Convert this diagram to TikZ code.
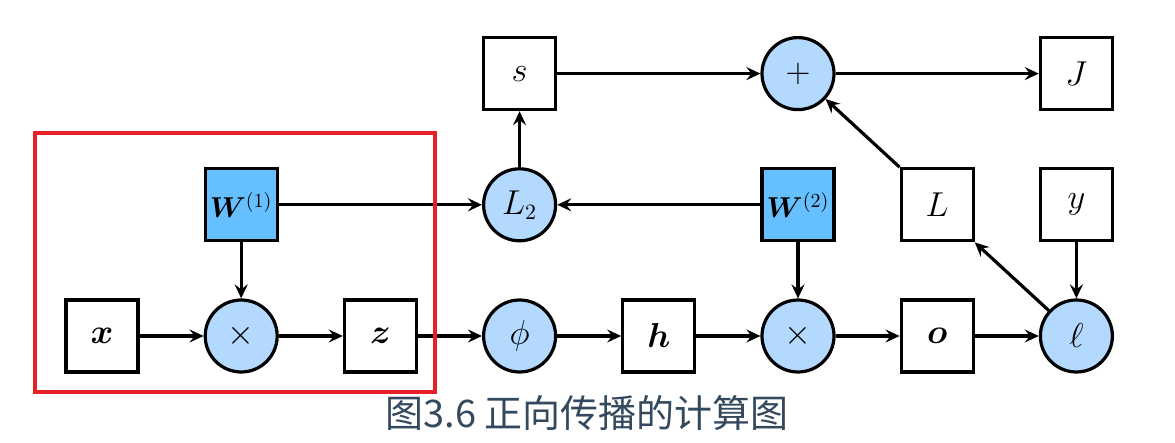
\documentclass[tikz,border=0pt]{standalone}
\usepackage{amsmath}
\usepackage{bm}
\usepackage{fontspec}
\usetikzlibrary{arrows.meta, positioning}
\newfontfamily\cjk{Noto Sans CJK SC}
\definecolor{opblue}{RGB}{179,217,255}
\definecolor{parblue}{RGB}{102,191,255}
\definecolor{framered}{RGB}{230,32,40}
\definecolor{capgray}{RGB}{52,73,94}

\begin{document}
\begin{tikzpicture}[>={Stealth[length=7pt,width=6.5pt,inset=2.5pt]},line width=1.6pt,x=0.5pt,y=-0.5pt,font=\fontsize{16}{19}\selectfont]
            % Define the styles for the nodes
            \tikzstyle{var} = [rectangle, draw, fill=white, minimum size=36pt, inner sep=0pt, text centered]
            \tikzstyle{param} = [var, fill=parblue, font=\fontsize{14.5}{17}\selectfont]
            \tikzstyle{op} = [circle, draw, fill=opblue, minimum size=36pt, inner sep=0pt]

            \useasboundingbox (0,0) rectangle (1175,443);

            % Nodes position (bottom row)
            \node [var] (x) at (102,336) {$\bm{x}$};
            \node [op, right=32pt of x] (mul1) {$\times$};
            \node [var, right=32pt of mul1] (z) {$\bm{z}$};
            \node [op, right=32pt of z] (phi) {$\phi$};
            \node [var, right=32pt of phi] (h) {$\bm{h}$};
            \node [op, right=32pt of h] (mul2) {$\times$};
            \node [var, right=32pt of mul2] (o) {$\bm{o}$};
            \node [op, right=32pt of o] (ell) {$\ell$};

            % Nodes position (middle row)
            \node [param, above=28pt of mul1] (W1) {$\bm{W}^{(1)}$};
            \node [op, above=28pt of phi] (L2) {$L_2$};
            \node [param, above=28pt of mul2] (W2) {$\bm{W}^{(2)}$};
            \node [var, above=28pt of o] (L) {$L$};
            \node [var, above=28pt of ell] (y) {$y$};

            % Nodes position (top row)
            \node [var, above=28pt of L2] (s) {$s$};
            \node [op, above=28pt of W2] (plus) {$+$};
            \node [var, above=28pt of y] (J) {$J$};

            % Arrows
            \draw[->] (x) -- (mul1);
            \draw[->] (mul1) -- (z);
            \draw[->] (z) -- (phi);
            \draw[->] (phi) -- (h);
            \draw[->] (h) -- (mul2);
            \draw[->] (mul2) -- (o);
            \draw[->] (o) -- (ell);
            \draw[->] (W1) -- (mul1);
            \draw[->] (W1) -- (L2);
            \draw[->] (W2) -- (L2);
            \draw[->] (W2) -- (mul2);
            \draw[->] (L2) -- (s);
            \draw[->] (s) -- (plus);
            \draw[->] (plus) -- (J);
            \draw[->] (L.north west) -- (plus);
            \draw[->] (ell) -- (L.south east);
            \draw[->] (y) -- (ell);

            % Highlight frame and caption
            \draw[framered] (35,133) rectangle (435,392);
            \node[text=capgray, font=\cjk\fontsize{19}{22}\selectfont] (caption) at (587,413) {图3.6 正向传播的计算图};
        \end{tikzpicture}
\end{document}
